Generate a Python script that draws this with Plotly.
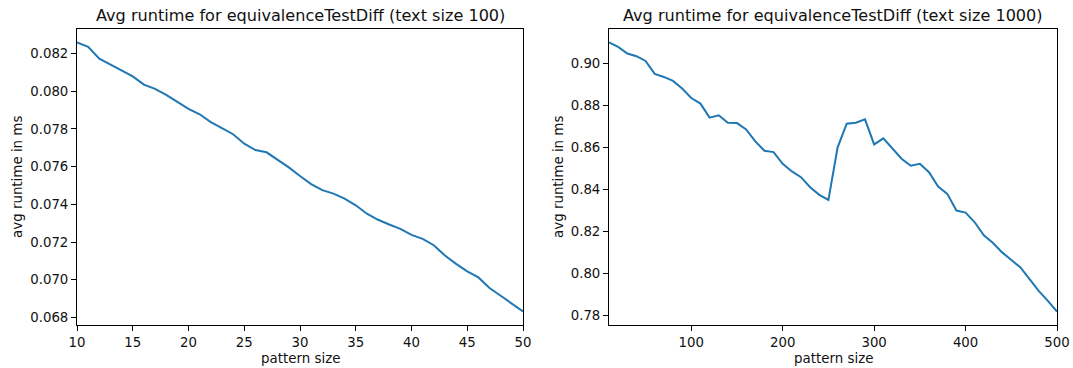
import plotly.graph_objects as go

# ---- data ----
pattern_small = list(range(10, 51))
runtime_small = [
    0.08259, 0.08236, 0.08173, 0.08141, 0.08109, 0.08079, 0.08035, 0.08013, 0.07981, 0.07946,
    0.07907, 0.07878, 0.07836, 0.07804, 0.07772, 0.07722, 0.07688, 0.07676, 0.07635, 0.07596,
    0.07550, 0.07507, 0.07475, 0.07457, 0.07430, 0.07395, 0.07350, 0.07318, 0.07293, 0.07270,
    0.07238, 0.07217, 0.07183, 0.07128, 0.07084, 0.07044, 0.07012, 0.06956, 0.06915, 0.06874,
    0.06831,
]
pattern_large = list(range(10, 501, 10))
runtime_large = [
    0.91004, 0.90794, 0.90478, 0.90349, 0.90124, 0.89503, 0.89359, 0.89168, 0.88805, 0.88355,
    0.88088, 0.87418, 0.87528, 0.87179, 0.87160, 0.86859, 0.86285, 0.85840, 0.85774, 0.85219,
    0.84851, 0.84578, 0.84100, 0.83737, 0.83498, 0.85990, 0.87131, 0.87179, 0.87337, 0.86141,
    0.86428, 0.85936, 0.85458, 0.85123, 0.85219, 0.84817, 0.84133, 0.83784, 0.82986, 0.82890,
    0.82427, 0.81805, 0.81441, 0.80992, 0.80643, 0.80275, 0.79720, 0.79160, 0.78682, 0.78171,
]
titles = ["Avg runtime for equivalenceTestDiff (text size 100)",
          "Avg runtime for equivalenceTestDiff (text size 1000)"]
x_label = "pattern size"
y_label = "avg runtime in ms"

W, H = 1073, 368
FONT = "DejaVu Sans"
LINE_COLOR = "#1f77b4"
TEXT_COLOR = "#111111"

def pad(vals, frac=0.05):
    lo, hi = min(vals), max(vals)
    d = (hi - lo) * frac
    return [lo - d, hi + d]

fig = go.Figure()
fig.add_trace(go.Scatter(x=pattern_small, y=runtime_small, mode="lines",
                         line=dict(color=LINE_COLOR, width=2), xaxis="x", yaxis="y"))
fig.add_trace(go.Scatter(x=pattern_large, y=runtime_large, mode="lines",
                         line=dict(color=LINE_COLOR, width=2), xaxis="x2", yaxis="y2"))

# plot areas in pixels
L1, R1 = 77, 523
L2, R2 = 609, 1057
TOP, BOT = 29, 325
ydom = [1 - BOT / H, 1 - TOP / H]

axis_common = dict(showline=True, linecolor="black", linewidth=1, mirror=True,
                   ticks="outside", ticklen=5, tickwidth=1, tickcolor="black",
                   showgrid=False, zeroline=False, automargin=False,
                   tickfont=dict(family=FONT, size=13.3, color=TEXT_COLOR))

fig.update_layout(
    template="none",
    width=W, height=H,
    margin=dict(l=0, r=0, t=0, b=0, pad=0),
    paper_bgcolor="white", plot_bgcolor="white",
    showlegend=False,
    xaxis=dict(domain=[L1 / W, R1 / W], range=[10, 50], dtick=5, tick0=10,
               anchor="y", **axis_common),
    yaxis=dict(domain=ydom, range=pad(runtime_small), dtick=0.002, tick0=0,
               tickformat=".3f", anchor="x", **axis_common),
    xaxis2=dict(domain=[L2 / W, R2 / W], range=[10, 500], dtick=100, tick0=0,
                anchor="y2", **axis_common),
    yaxis2=dict(domain=ydom, range=pad(runtime_large), dtick=0.02, tick0=0,
                tickformat=".2f", anchor="x2", **axis_common),
)

ann = []
for (l, r, t) in [(L1, R1, titles[0]), (L2, R2, titles[1])]:
    cx = (l + r) / 2 / W
    ann.append(dict(text=t, x=cx, y=1 - 16 / H, xref="paper", yref="paper",
                    showarrow=False, xanchor="center", yanchor="middle",
                    font=dict(family=FONT, size=16.1, color=TEXT_COLOR)))
    ann.append(dict(text=x_label, x=cx, y=1 - 358 / H, xref="paper", yref="paper",
                    showarrow=False, xanchor="center", yanchor="middle",
                    font=dict(family=FONT, size=13.4, color=TEXT_COLOR)))
for xpix in (17, 558):
    ann.append(dict(text=y_label, x=xpix / W, y=1 - 177 / H, xref="paper", yref="paper",
                    showarrow=False, xanchor="center", yanchor="middle", textangle=-90,
                    font=dict(family=FONT, size=13.4, color=TEXT_COLOR)))
fig.update_layout(annotations=ann)

fig.write_html("out.html")
